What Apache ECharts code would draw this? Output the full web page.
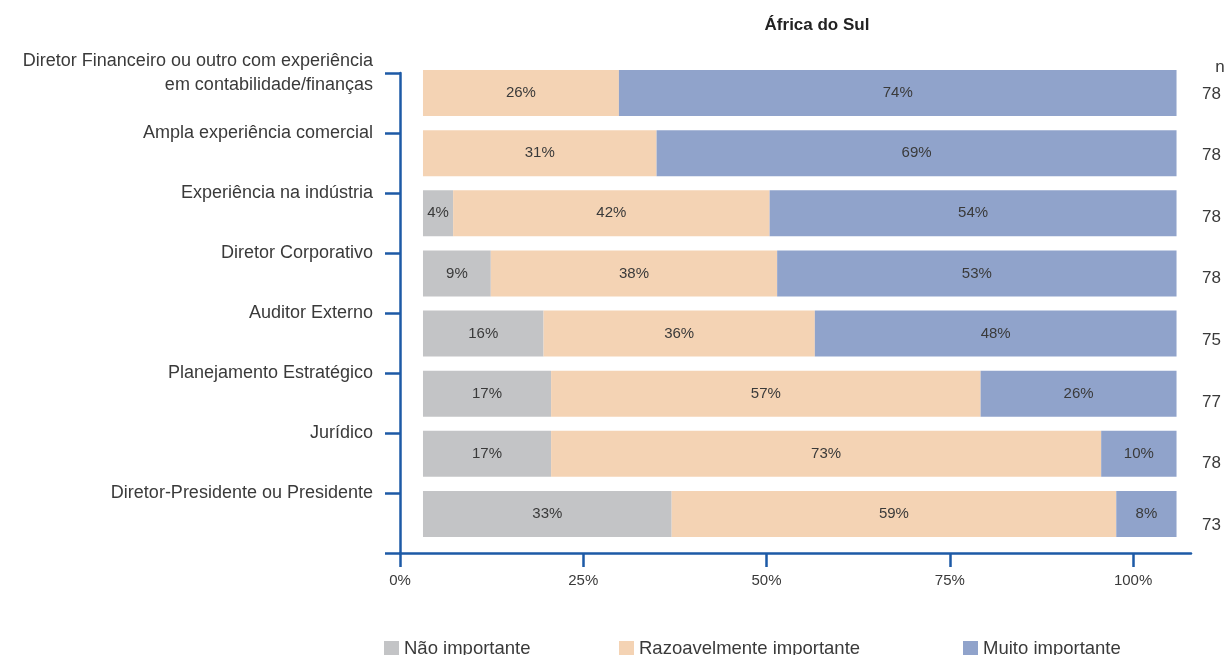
<!DOCTYPE html>
<html>
<head>
<meta charset="utf-8">
<script src="https://cdn.jsdelivr.net/npm/echarts@6/dist/echarts.min.js"></script>
<style>
  html, body { margin: 0; padding: 0; background: #fff; }
  #main { width: 1231px; height: 655px; }
</style>
</head>
<body>
<div id="main"></div>
<script>
// categories, top to bottom
const categories = [
    'Diretor Financeiro ou outro com experiência\nem contabilidade/finanças',
    'Ampla experiência comercial',
    'Experiência na indústria',
    'Diretor Corporativo',
    'Auditor Externo',
    'Planejamento Estratégico',
    'Jurídico',
    'Diretor-Presidente ou Presidente'
];
const naoImportante = [0, 0, 4, 9, 16, 17, 17, 33];
const razoavelmente = [26, 31, 42, 38, 36, 57, 73, 59];
const muitoImportante = [74, 69, 54, 53, 48, 26, 10, 8];
const nValues = ['78', '78', '78', '78', '75', '77', '78', '73'];
const xTicks = [0, 25, 50, 75, 100];

const FONT = 'Liberation Sans';
const AXIS = '#1d5aa6';
const TEXT = '#3a3a3a';

const segLabel = {
    show: true,
    position: 'inside',
    color: TEXT,
    fontFamily: FONT,
    fontSize: 15,
    formatter: (p) => p.value ? p.value + '%' : ''
};

const bar = (name, data, color) => ({
    name: name,
    type: 'bar',
    stack: 'total',
    xAxisIndex: 0,
    yAxisIndex: 0,
    barWidth: 46,
    itemStyle: { color: color },
    label: segLabel,
    emphasis: { disabled: true },
    data: data
});

const legendItem = (name, left) => ({
    data: [name],
    left: left,
    top: 639,
    padding: 0,
    icon: 'rect',
    itemWidth: 15,
    itemHeight: 15,
    selectedMode: false,
    textStyle: { color: TEXT, fontFamily: FONT, fontSize: 18.5 }
});

const chart = echarts.init(document.getElementById('main'));
chart.setOption({
    animation: false,
    backgroundColor: '#fff',
    title: [
        {
            text: 'África do Sul',
            left: 812, top: 12, textAlign: 'center',
            textStyle: { fontFamily: FONT, fontSize: 17, fontWeight: 'bold', color: '#222' }
        },
        {
            text: 'n',
            left: 1215, top: 54, textAlign: 'center',
            textStyle: { fontFamily: FONT, fontSize: 17, fontWeight: 'normal', color: TEXT }
        }
    ],
    legend: [
        legendItem('Não importante', 384),
        legendItem('Razoavelmente importante', 619),
        legendItem('Muito importante', 963)
    ],
    grid: [
        // bars
        { left: 400, right: 40, top: 63, bottom: 111, outerBoundsMode: 'none' },
        // visible axes
        { left: 400, right: 40, top: 73, bottom: 102, outerBoundsMode: 'none' },
        // n column
        { left: 1190, width: 1, top: 94, bottom: 130, outerBoundsMode: 'none' }
    ],
    xAxis: [
        { gridIndex: 0, type: 'value', min: -3.05, max: 101.92, show: false },
        {
            gridIndex: 1, type: 'value', min: 0, max: 107.9,
            axisLine: { show: true, onZero: false, lineStyle: { color: AXIS, width: 2.5 } },
            axisTick: { show: true, length: 14, customValues: xTicks, lineStyle: { color: AXIS, width: 2.5 } },
            axisLabel: {
                margin: 20, customValues: xTicks, formatter: '{value}%',
                color: TEXT, fontFamily: FONT, fontSize: 15
            },
            splitLine: { show: false }
        },
        { gridIndex: 2, type: 'value', show: false }
    ],
    yAxis: [
        { gridIndex: 0, type: 'category', inverse: true, data: categories, show: false },
        {
            gridIndex: 1, type: 'category', inverse: true, boundaryGap: false,
            data: categories.concat(['']),
            axisLine: { show: true, onZero: false, lineStyle: { color: AXIS, width: 2.5 } },
            axisTick: { show: true, length: 15, lineStyle: { color: AXIS, width: 2.5 } },
            axisLabel: {
                margin: 27, interval: 0, align: 'right', padding: [4, 0, 0, 0],
                color: TEXT, fontFamily: FONT, fontSize: 18, lineHeight: 24
            },
            splitLine: { show: false }
        },
        {
            gridIndex: 2, type: 'category', inverse: true, boundaryGap: false,
            position: 'right', data: nValues,
            axisLine: { show: false }, axisTick: { show: false },
            axisLabel: { margin: 11, interval: 0, color: TEXT, fontFamily: FONT, fontSize: 17 }
        }
    ],
    series: [
        bar('Não importante', naoImportante, '#c3c4c6'),
        bar('Razoavelmente importante', razoavelmente, '#f4d3b4'),
        bar('Muito importante', muitoImportante, '#90a3cb')
    ]
});
</script>
</body>
</html>
